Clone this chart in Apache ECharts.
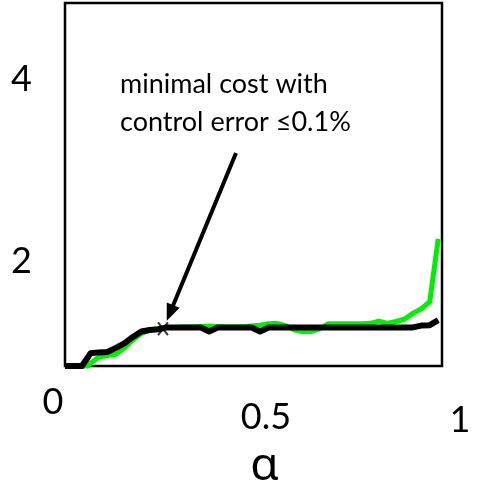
<!DOCTYPE html>
<html>
<head>
<meta charset="utf-8">
<script src="https://cdn.jsdelivr.net/npm/echarts@6/dist/echarts.min.js"></script>
<style>
  html, body { margin: 0; padding: 0; background: #fff; }
  #chart { width: 481px; height: 487px; }
</style>
</head>
<body>
<div id="chart"></div>
<script>
// weighting parameter α
const alpha = [0, 0.0225, 0.045, 0.0675, 0.09, 0.1125, 0.135, 0.1575, 0.18, 0.2025,
  0.225, 0.2475, 0.27, 0.2925, 0.315, 0.3375, 0.36, 0.3825, 0.405, 0.4275,
  0.45, 0.4725, 0.495, 0.5175, 0.54, 0.5625, 0.585, 0.6075, 0.63, 0.6525,
  0.675, 0.6975, 0.72, 0.7425, 0.765, 0.7875, 0.81, 0.8325, 0.855, 0.8775,
  0.9, 0.9225, 0.945, 0.9675, 0.99];

// cost curves
const costGreen = [0.62, 0.66, 0.72, 0.83, 0.9, 0.915, 0.93, 0.998, 1.086, 1.158,
  1.197, 1.21, 1.225, 1.225, 1.23, 1.23, 1.235, 1.24, 1.235, 1.23,
  1.23, 1.23, 1.24, 1.25, 1.265, 1.27, 1.245, 1.2, 1.18, 1.18,
  1.21, 1.265, 1.265, 1.265, 1.265, 1.265, 1.27, 1.295, 1.27, 1.29,
  1.315, 1.38, 1.43, 1.51, 2.2];

const costBlack = [0.8, 0.8, 0.8, 0.94, 0.95, 0.955, 1.0, 1.05, 1.12, 1.18,
  1.197, 1.205, 1.225, 1.225, 1.225, 1.225, 1.225, 1.18, 1.225, 1.225,
  1.225, 1.225, 1.225, 1.18, 1.225, 1.225, 1.225, 1.225, 1.225, 1.225,
  1.225, 1.225, 1.225, 1.225, 1.225, 1.225, 1.225, 1.225, 1.225, 1.225,
  1.225, 1.225, 1.245, 1.25, 1.305];

const xTicks = [0, 0.5, 1];
const yTicks = [2, 4];
const xName = 'α';

// selected operating point and the note pointing at it
const optimum = [0.26, 1.21];
const arrowFrom = [0.4536, 3.147];
const arrowTo = [0.2785, 1.384];
const noteLines = ['minimal cost with', 'control error ≤0.1%'];

// per-label nudges for the α tick labels: [top, right, bottom, left] padding
const xLabelPad = { t0: [0, 24, 0, 0], t1: [15, 0, 0, 25], t2: [18, 0, 0, 36] };

const chart = echarts.init(document.getElementById('chart'));

const pairs = ys => alpha.map((a, i) => [a, ys[i]]);
const rich = {};
Object.keys(xLabelPad).forEach(k => {
  rich[k] = { fontSize: 36, fontFamily: 'Lato', color: '#000', padding: xLabelPad[k] };
});

chart.setOption({
  animation: false,
  backgroundColor: '#fff',
  grid: {
    left: 65, right: 39, top: 3, bottom: 121,
    outerBoundsMode: 'none', containLabel: false,
    show: true, borderColor: '#000', borderWidth: 2.5, backgroundColor: 'transparent'
  },
  xAxis: {
    type: 'value', min: 0, max: 1,
    name: xName, nameLocation: 'middle', nameGap: 78,
    nameTextStyle: { fontSize: 46, fontFamily: 'Noto Sans', color: '#000', padding: [0, 0, 0, 22] },
    axisLine: { show: false }, axisTick: { show: false }, splitLine: { show: false },
    axisLabel: {
      customValues: xTicks, margin: 18,
      formatter: v => '{t' + xTicks.indexOf(v) + '|' + v + '}',
      rich
    }
  },
  yAxis: {
    type: 'value', min: 0.8, max: 4.8,
    axisLine: { show: false }, axisTick: { show: false }, splitLine: { show: false },
    axisLabel: {
      customValues: yTicks, margin: 33,
      formatter: v => '{y|' + v + '}',
      rich: { y: { fontSize: 36, fontFamily: 'Lato', color: '#000', padding: [8, 0, 0, 0] } }
    }
  },
  graphic: [{
    type: 'text', left: 120, top: 65, z: 10,
    style: { text: noteLines.join('\n'), font: '27px Lato', lineHeight: 38, fill: '#000' }
  }],
  series: [
    {
      type: 'line', data: pairs(costGreen), showSymbol: false, clip: true,
      lineStyle: { color: '#00ee00', width: 5, join: 'round' }, z: 2
    },
    {
      type: 'line', data: pairs(costBlack), showSymbol: false, clip: true,
      lineStyle: { color: '#000', width: 6, join: 'round' }, z: 3,
      markLine: {
        silent: true, symbol: ['none', 'triangle'], symbolSize: [14, 17],
        lineStyle: { color: '#000', width: 4, type: 'solid' },
        itemStyle: { color: '#000' }, label: { show: false },
        data: [[{ coord: arrowFrom }, { coord: arrowTo }]]
      }
    },
    {
      type: 'scatter', z: 4, symbol: 'rect', symbolSize: [2, 16],
      itemStyle: { color: '#000' },
      data: [
        { value: optimum, symbolRotate: 38 },
        { value: optimum, symbolRotate: -38 }
      ]
    }
  ]
});
</script>
</body>
</html>
